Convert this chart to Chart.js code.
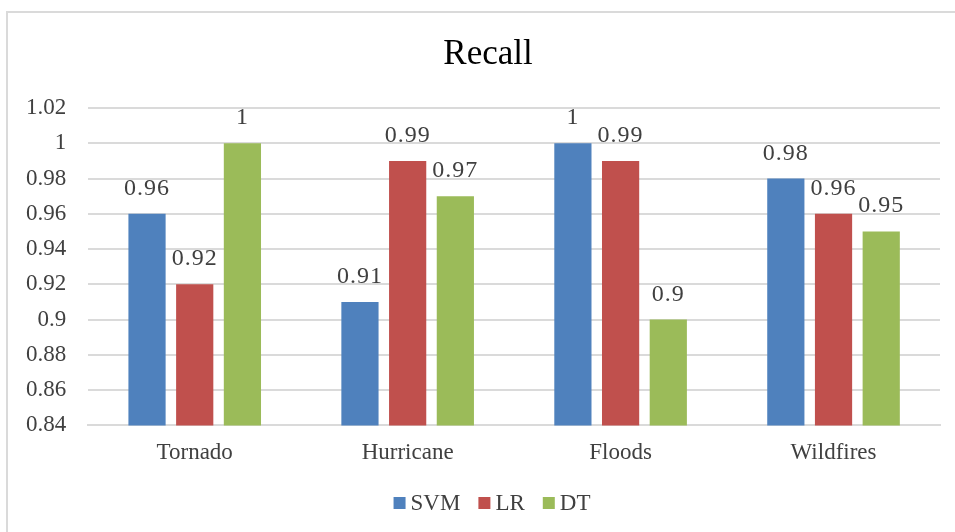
<!DOCTYPE html>
<html>
<head>
<meta charset="utf-8">
<script src="https://cdn.jsdelivr.net/npm/chart.js@4/dist/chart.umd.min.js"></script>
<style>
  html, body { margin: 0; padding: 0; background: #fff; overflow: hidden; }
  #frame {
    position: absolute; left: 6px; top: 11px;
    width: 960px; height: 540px;
    border: 2px solid #dadada; box-sizing: border-box;
  }
  #wrap { position: absolute; left: 0; top: 0; width: 955px; height: 532px; }
</style>
</head>
<body>
<div id="frame"></div>
<div id="wrap"><canvas id="c"></canvas></div>
<script>
const chartTitle = 'Recall';
const categories = ['Tornado', 'Hurricane', 'Floods', 'Wildfires'];
const seriesNames = ['SVM', 'LR', 'DT'];
const svmValues = [0.96, 0.91, 1, 0.98];
const lrValues = [0.92, 0.99, 0.99, 0.96];
const dtValues = [1, 0.97, 0.9, 0.95];
const seriesColors = ['#4f81bd', '#c0504d', '#9bbb59'];

const serif = '"Liberation Serif", "Times New Roman", serif';
const textGrey = '#404040';

// Writes each bar's value just above its top
const valueLabels = {
  id: 'valueLabels',
  afterDatasetsDraw(chart) {
    const ctx = chart.ctx;
    ctx.save();
    ctx.font = '24px ' + serif;
    ctx.letterSpacing = '1px';
    ctx.fillStyle = textGrey;
    ctx.textAlign = 'center';
    ctx.textBaseline = 'alphabetic';
    chart.data.datasets.forEach((ds, i) => {
      chart.getDatasetMeta(i).data.forEach((bar, j) => {
        ctx.fillText(String(ds.data[j]), bar.x, bar.y - 19);
      });
    });
    ctx.restore();
  }
};

// Heading centred a little right of the plot's middle, in the space kept by layout.padding.top
const heading = {
  id: 'heading',
  afterDraw(chart) {
    const ctx = chart.ctx;
    ctx.save();
    ctx.font = '35px ' + serif;
    ctx.fillStyle = '#000';
    ctx.textAlign = 'center';
    ctx.textBaseline = 'middle';
    ctx.fillText(chartTitle, 488, 55);
    ctx.restore();
  }
};

// Compact legend row under the axis: square swatch, small gap, series name
const legendRow = {
  id: 'legendRow',
  afterDraw(chart) {
    const ctx = chart.ctx;
    const box = 12, gap = 5, itemGap = 18, cy = 503;
    ctx.save();
    ctx.font = '23px ' + serif;
    ctx.textBaseline = 'middle';
    ctx.textAlign = 'left';
    const widths = seriesNames.map(n => ctx.measureText(n).width);
    const total = widths.reduce((a, w) => a + box + gap + w, 0) + itemGap * (seriesNames.length - 1);
    let x = 492 - total / 2;
    seriesNames.forEach((name, i) => {
      ctx.fillStyle = seriesColors[i];
      ctx.fillRect(x, cy - box / 2, box, box);
      x += box + gap;
      ctx.fillStyle = textGrey;
      ctx.fillText(name, x, cy + 1);
      x += widths[i] + itemGap;
    });
    ctx.restore();
  }
};

new Chart(document.getElementById('c'), {
  type: 'bar',
  data: {
    labels: categories,
    datasets: [
      { label: seriesNames[0], data: svmValues, backgroundColor: seriesColors[0] },
      { label: seriesNames[1], data: lrValues, backgroundColor: seriesColors[1] },
      { label: seriesNames[2], data: dtValues, backgroundColor: seriesColors[2] }
    ]
  },
  options: {
    responsive: true,
    maintainAspectRatio: false,
    animation: false,
    categoryPercentage: 0.672,
    barPercentage: 0.78,
    layout: { padding: { left: 4, right: 15, top: 108, bottom: 59 } },
    plugins: {
      title: { display: false },
      legend: { display: false },
      tooltip: { enabled: false }
    },
    scales: {
      x: {
        grid: { display: false },
        border: { color: '#dadada', width: 2 },
        ticks: { color: textGrey, font: { family: serif, size: 23 }, padding: 6 }
      },
      y: {
        min: 0.84, max: 1.02,
        grid: { color: '#dadada', drawTicks: false, lineWidth: 2 },
        border: { display: false },
        ticks: {
          stepSize: 0.02, color: textGrey, padding: 22,
          font: { family: serif, size: 23 },
          callback: v => String(parseFloat(v.toFixed(2)))
        }
      }
    }
  },
  plugins: [valueLabels, heading, legendRow]
});
</script>
</body>
</html>
